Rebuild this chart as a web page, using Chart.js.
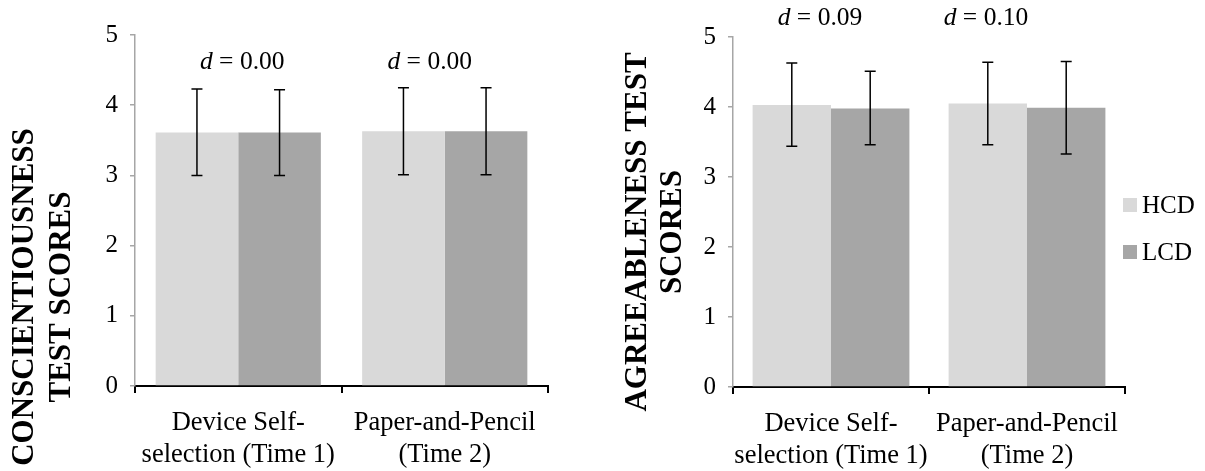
<!DOCTYPE html>
<html>
<head>
<meta charset="utf-8">
<script src="https://cdn.jsdelivr.net/npm/chart.js@4.4.1/dist/chart.umd.min.js"></script>
<style>
  body { margin: 0; background: #fff; }
  .wrap { position: relative; width: 1205px; height: 471px; }
  #chartLeft { position: absolute; left: 0; top: 0; }
  #chartRight { position: absolute; left: 600px; top: 0; }
</style>
</head>
<body>
<div class="wrap">
  <canvas id="chartLeft" width="600" height="471"></canvas>
  <canvas id="chartRight" width="605" height="471"></canvas>
</div>
<script>
// data
const categories = [['Device Self-', 'selection (Time 1)'], ['Paper-and-Pencil', '(Time 2)']];
const seriesNames = ['HCD', 'LCD'];
const yTicks = [0, 1, 2, 3, 4, 5];

const conscHCD = [3.61, 3.63];
const conscLCD = [3.61, 3.63];
const conscHCDHigh = [4.23, 4.25];
const conscHCDLow = [3.00, 3.01];
const conscLCDHigh = [4.22, 4.25];
const conscLCDLow = [3.00, 3.01];
const conscD = ['0.00', '0.00'];

const agreeHCD = [4.03, 4.05];
const agreeLCD = [3.98, 3.99];
const agreeHCDHigh = [4.63, 4.64];
const agreeHCDLow = [3.44, 3.46];
const agreeLCDHigh = [4.51, 4.65];
const agreeLCDLow = [3.46, 3.33];
const agreeD = ['0.09', '0.10'];

const colors = ['#d9d9d9', '#a6a6a6'];
const serif = "'Liberation Serif', 'Times New Roman', serif";

// error bars, d labels, rotated axis title, legend
const extras = {
  id: 'extras',
  afterDatasetsDraw(chart) {
    const ctx = chart.ctx;
    const o = chart.options.plugins.extras;
    const yScale = chart.scales.y;
    const xScale = chart.scales.x;
    ctx.save();
    ctx.strokeStyle = '#000';
    ctx.lineWidth = 1.5;
    for (let d = 0; d < chart.data.datasets.length; d++) {
      let meta = chart.getDatasetMeta(d);
      let err = o.errors[d];
      for (let i = 0; i < meta.data.length; i++) {
        let x = meta.data[i].x;
        let yHi = yScale.getPixelForValue(err.high[i]);
        let yLo = yScale.getPixelForValue(err.low[i]);
        ctx.beginPath();
        ctx.moveTo(x, yHi); ctx.lineTo(x, yLo);
        ctx.moveTo(x - 5.5, yHi); ctx.lineTo(x + 5.5, yHi);
        ctx.moveTo(x - 5.5, yLo); ctx.lineTo(x + 5.5, yLo);
        ctx.stroke();
      }
    }
    // d = ... labels
    ctx.fillStyle = '#000';
    ctx.textBaseline = 'middle';
    ctx.textAlign = 'left';
    for (let i = 0; i < o.dValues.length; i++) {
      let cx = xScale.getPixelForValue(i) + o.dOffsets[i];
      ctx.font = 'italic 25.5px ' + serif;
      let w1 = ctx.measureText('d').width;
      ctx.font = '25.5px ' + serif;
      let rest = ' = ' + o.dValues[i];
      let w2 = ctx.measureText(rest).width;
      let sx = cx - (w1 + w2) / 2;
      ctx.font = 'italic 25.5px ' + serif;
      ctx.fillText('d', sx, o.dY);
      ctx.font = '25.5px ' + serif;
      ctx.fillText(rest, sx + w1, o.dY);
    }
    // y title
    ctx.font = 'bold 31px ' + serif;
    ctx.textAlign = 'center';
    ctx.textBaseline = 'alphabetic';
    for (let i = 0; i < o.title.length; i++) {
      ctx.save();
      ctx.translate(o.titleX[i], o.titleY);
      ctx.rotate(-Math.PI / 2);
      ctx.fillText(o.title[i], 0, 0);
      ctx.restore();
    }
    // legend
    if (o.legend) {
      ctx.font = '25px ' + serif;
      ctx.textAlign = 'left';
      ctx.textBaseline = 'middle';
      for (let d = 0; d < chart.data.datasets.length; d++) {
        let ds = chart.data.datasets[d];
        let ly = o.legend.y[d];
        ctx.fillStyle = ds.backgroundColor;
        ctx.fillRect(o.legend.x, ly - 7, 14, 14);
        ctx.fillStyle = '#000';
        ctx.fillText(ds.label, o.legend.x + 19, ly + 1);
      }
    }
    ctx.restore();
  }
};

function makeChart(id, hcd, lcd, errors, dValues, opts) {
  return new Chart(document.getElementById(id), {
    type: 'bar',
    data: {
      labels: categories,
      datasets: [
        { label: seriesNames[0], data: hcd, backgroundColor: colors[0], barPercentage: 1, categoryPercentage: 0.8 },
        { label: seriesNames[1], data: lcd, backgroundColor: colors[1], barPercentage: 1, categoryPercentage: 0.8 }
      ]
    },
    options: {
      responsive: false,
      animation: false,
      layout: { padding: { left: 0, right: opts.padRight, top: opts.padTop, bottom: 0 } },
      scales: {
        x: {
          afterFit: function (s) { s.height = opts.xHeight; },
          border: { color: '#000', width: 2 },
          grid: { drawOnChartArea: false, drawTicks: true, tickLength: 7, color: '#000', lineWidth: 2 },
          ticks: { color: '#000', padding: 14, maxRotation: 0, autoSkip: false, font: { family: serif, size: 26.5, lineHeight: 1.2 } }
        },
        y: {
          min: 0,
          max: 5,
          afterFit: function (s) { s.width = opts.yWidth; },
          afterBuildTicks: function (s) { s.ticks = yTicks.map(function (v) { return { value: v }; }); },
          border: { color: '#a6a6a6', width: 1.5 },
          grid: { drawOnChartArea: false, drawTicks: true, tickLength: 5, color: '#a6a6a6', lineWidth: 1.5 },
          ticks: { color: '#000', padding: 12, font: { family: serif, size: 25 } }
        }
      },
      plugins: {
        legend: { display: false },
        tooltip: { enabled: false },
        extras: {
          errors: errors,
          dValues: dValues,
          dOffsets: opts.dOffsets,
          dY: opts.dY,
          title: opts.title,
          titleX: opts.titleX,
          titleY: opts.titleY,
          legend: opts.legend
        }
      }
    },
    plugins: [extras]
  });
}

makeChart('chartLeft', conscHCD, conscLCD,
  [{ high: conscHCDHigh, low: conscHCDLow }, { high: conscLCDHigh, low: conscLCDLow }],
  conscD,
  {
    padRight: 52, padTop: 35, xHeight: 85, yWidth: 135,
    dOffsets: [4, -15], dY: 62,
    title: ['CONSCIENTIOUSNESS', 'TEST SCORES'], titleX: [33, 70], titleY: 297,
    legend: null
  });

makeChart('chartRight', agreeHCD, agreeLCD,
  [{ high: agreeHCDHigh, low: agreeHCDLow }, { high: agreeLCDHigh, low: agreeLCDLow }],
  agreeD,
  {
    padRight: 80, padTop: 37, xHeight: 84, yWidth: 133,
    dOffsets: [-11, -41], dY: 18,
    title: ['AGREEABLENESS TEST', 'SCORES'], titleX: [46, 81], titleY: 232,
    legend: { x: 523, y: [205, 252] }
  });
</script>
</body>
</html>
